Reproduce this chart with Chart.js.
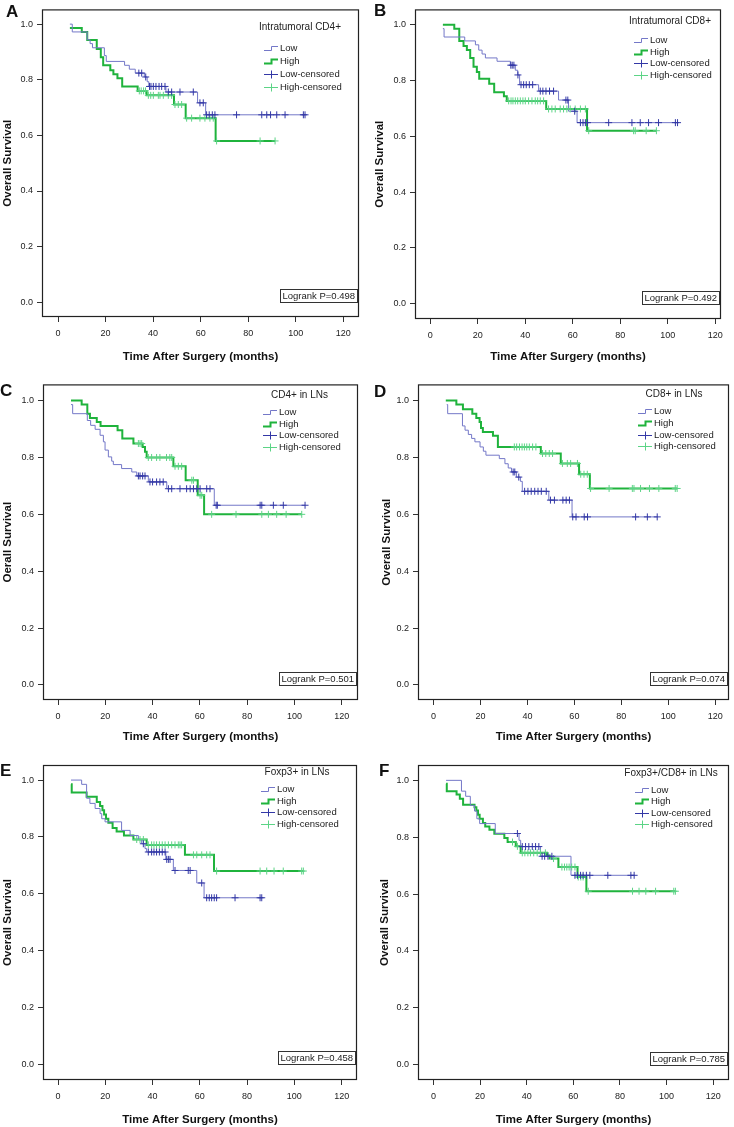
<!DOCTYPE html>
<html>
<head>
<meta charset="utf-8">
<title>Overall survival by T-cell infiltration</title>
<script src="https://cdn.jsdelivr.net/npm/chart.js@4.4.1/dist/chart.umd.min.js"></script>
<style>
  html, body { margin: 0; padding: 0; background: #fff; }
  #wrap { position: relative; width: 734px; height: 1127px; }
  #wrap canvas { position: absolute; }
</style>
</head>
<body>
<div id="wrap">
  <canvas id="cA" width="367" height="375" style="left:0;top:0"></canvas>
  <canvas id="cB" width="367" height="375" style="left:367px;top:0"></canvas>
  <canvas id="cC" width="367" height="377" style="left:0;top:375px"></canvas>
  <canvas id="cD" width="367" height="377" style="left:367px;top:375px"></canvas>
  <canvas id="cE" width="367" height="375" style="left:0;top:752px"></canvas>
  <canvas id="cF" width="367" height="375" style="left:367px;top:752px"></canvas>
</div>
<script>
// tick labels
const xTicks = [0, 20, 40, 60, 80, 100, 120];
const yTicks = [0, 0.2, 0.4, 0.6, 0.8, 1.0];

// panel texts
const panelLetters = ['A', 'B', 'C', 'D', 'E', 'F'];
const panelTitles = ['Intratumoral CD4+', 'Intratumoral CD8+', 'CD4+ in LNs', 'CD8+ in LNs', 'Foxp3+ in LNs', 'Foxp3+/CD8+ in LNs'];
const logrankP = ['0.498', '0.492', '0.501', '0.074', '0.458', '0.785'];
const yTitles = ['Overall Survival', 'Overall Survival', 'Oerall Survival', 'Overall Survival', 'Overall Survival', 'Overall Survival'];
const legendLabels = ['Low', 'High', 'Low-censored', 'High-censored'];

// A - Intratumoral CD4+
const aLowTime = [5, 6, 12.3, 13.5, 14.5, 19.5, 20.3, 28, 30, 32.5, 36.3, 37.5, 38.2, 45.4, 58.7, 62.1];
const aLowSurv = [1.0, 0.972, 0.944, 0.93, 0.915, 0.887, 0.866, 0.852, 0.838, 0.824, 0.81, 0.793, 0.776, 0.756, 0.717, 0.674];
const aLowCens = [34, 35.2, 36.9, 38.5, 39.1, 40.1, 41.2, 42.5, 43.6, 45, 46.4, 47.8, 51.3, 56.9, 59.7, 61.1, 62.5, 63.6, 64.9, 66, 75.1, 85.7, 87.8, 89.4, 92, 95.5, 103.2, 103.9];
const aHighTime = [5, 10, 12.3, 16.3, 18, 19, 22, 23.3, 25, 27, 33.5, 37.3, 48.8, 53.7, 66.3];
const aHighSurv = [0.986, 0.972, 0.943, 0.911, 0.881, 0.852, 0.834, 0.82, 0.805, 0.776, 0.76, 0.744, 0.711, 0.662, 0.58];
const aHighCens = [34.2, 35, 36, 36.8, 38, 39, 40.1, 42.2, 42.9, 44.3, 46.4, 47.8, 49.2, 50.6, 52, 54.1, 56.2, 59.7, 61.8, 63.9, 65.3, 66.7, 85, 91.3];

// B - Intratumoral CD8+
const bLowTime = [5.3, 5.8, 14.5, 19, 20.4, 21.8, 23.2, 28.1, 33.7, 35.8, 36.8, 37.6, 45.6, 54, 58.2, 61.8];
const bLowSurv = [0.986, 0.956, 0.942, 0.928, 0.909, 0.895, 0.881, 0.869, 0.855, 0.837, 0.82, 0.785, 0.762, 0.73, 0.69, 0.649];
const bLowCens = [33.9, 34.5, 35.2, 36.9, 38.2, 39.3, 40.4, 41.7, 43.1, 46.3, 47.4, 48.7, 50.2, 51.9, 57.1, 57.9, 60.8, 63.2, 64.3, 65.3, 66.2, 75.1, 84.9, 88.4, 91.9, 96.1, 103.2, 104.1];
const bHighTime = [5.3, 10.1, 12.2, 14, 15.4, 16.8, 18.2, 19.6, 20.6, 24.8, 26.9, 31, 32.2, 48.8, 66];
const bHighSurv = [1.0, 0.986, 0.942, 0.924, 0.909, 0.881, 0.849, 0.831, 0.806, 0.788, 0.758, 0.744, 0.727, 0.698, 0.62];
const bHighCens = [33, 34, 34.8, 35.8, 36.8, 37.9, 39, 40, 41.4, 42.8, 44.2, 45.2, 46.3, 47.7, 49.8, 51.2, 52.6, 54.7, 56.1, 57.5, 58.9, 61, 63.2, 65.3, 66.7, 85.6, 86.3, 90.9, 95.2];

// C - CD4+ in LNs
const cLowTime = [5.5, 6.2, 12.4, 13.8, 15.7, 17.8, 19.2, 19.9, 21.3, 22.7, 23.4, 26.9, 31.2, 33.3, 38.2, 46, 66.1];
const cLowSurv = [0.986, 0.954, 0.93, 0.913, 0.899, 0.878, 0.855, 0.826, 0.802, 0.787, 0.775, 0.761, 0.749, 0.735, 0.714, 0.69, 0.632];
const cLowCens = [34, 34.7, 35.8, 36.8, 38.9, 40, 41.7, 43.1, 44.5, 46.7, 48.1, 51.6, 54.4, 55.9, 57.3, 58.7, 60.1, 62.9, 64.3, 66.9, 67.4, 85.5, 86.2, 91.1, 95.3, 104.5];
const cHighTime = [5.5, 10, 12.4, 13.5, 16.4, 18, 25.2, 27.2, 31.9, 35.8, 36.8, 37.5, 48.8, 54, 59.1, 61.8];
const cHighSurv = [1.0, 0.986, 0.954, 0.939, 0.925, 0.911, 0.896, 0.867, 0.849, 0.837, 0.82, 0.8, 0.769, 0.72, 0.667, 0.6];
const cHighCens = [34, 34.7, 35.4, 38.2, 39.6, 41.7, 43.1, 45.9, 47.3, 48.1, 49.5, 50.9, 52.3, 56.6, 57.3, 60.1, 60.8, 65, 75.3, 86.2, 89, 92.5, 96.5, 103.1];

// D - CD8+ in LNs
const dLowTime = [5.6, 6, 12.3, 13.4, 14.8, 16.2, 17.6, 19.8, 21.2, 22.3, 28, 30.4, 31.8, 33.2, 35.3, 37, 37.8, 49.1, 59];
const dLowSurv = [0.986, 0.954, 0.911, 0.896, 0.881, 0.867, 0.855, 0.837, 0.822, 0.808, 0.796, 0.778, 0.763, 0.749, 0.731, 0.716, 0.681, 0.65, 0.591];
const dLowCens = [33.9, 34.6, 36.3, 38.8, 40.2, 41.6, 43.1, 44.5, 45.9, 48, 49.8, 51.5, 55.1, 56.5, 57.9, 59.3, 60.7, 64.2, 65.6, 86.1, 91.1, 95.3];
const dHighTime = [5.2, 9.7, 12.5, 16.5, 18.2, 19.6, 20.2, 21, 25.3, 27.4, 45.7, 54.2, 62, 66.6];
const dHighSurv = [1.0, 0.986, 0.97, 0.954, 0.939, 0.925, 0.904, 0.89, 0.876, 0.837, 0.814, 0.779, 0.741, 0.691];
const dHighCens = [34.4, 35.4, 36.6, 37.7, 38.7, 39.7, 40.8, 42.2, 43.6, 46.4, 47.8, 49.3, 50.7, 54.9, 57, 58.4, 61.3, 62.7, 64.1, 65.5, 66.9, 74.8, 84.7, 85.4, 88.2, 92, 96, 103, 103.8];

// E - Foxp3+ in LNs
const eLowTime = [5.5, 10, 12.1, 13.5, 15.7, 17.8, 18.5, 19.9, 26.9, 30.5, 34, 35.4, 36.8, 37.5, 45.6, 48.8, 58.7, 61.8];
const eLowSurv = [1.0, 0.985, 0.936, 0.918, 0.9, 0.882, 0.864, 0.853, 0.823, 0.805, 0.791, 0.776, 0.759, 0.747, 0.721, 0.682, 0.638, 0.586];
const eLowCens = [36.1, 38.2, 39.6, 40.6, 41.7, 42.9, 44.1, 45.3, 46, 46.7, 47.4, 49.5, 55.1, 55.9, 60.8, 62.9, 64, 65, 66.1, 67.1, 74.9, 85.5, 86.2];
const eHighTime = [5.5, 5.8, 12.1, 16.4, 17.8, 18.8, 19.5, 20.3, 21.3, 23.1, 24.8, 27.9, 31.9, 37.5, 53.7, 66];
const eHighSurv = [0.985, 0.956, 0.941, 0.923, 0.909, 0.894, 0.879, 0.864, 0.85, 0.831, 0.819, 0.805, 0.791, 0.772, 0.737, 0.68];
const eHighCens = [33.3, 34.7, 36.1, 38.2, 39.6, 40.6, 41.7, 42.9, 44.1, 45.3, 46.7, 48.1, 49.5, 50.9, 51.6, 52.3, 57.3, 58.7, 60.8, 62.9, 64.3, 67.1, 85.5, 88.3, 91.4, 95.3, 103.1, 103.8];

// F - Foxp3+/CD8+ in LNs
const fLowTime = [5.4, 12, 13.8, 15.8, 17.6, 18.6, 19.8, 26.5, 36.7, 37.4, 45.9, 59];
const fLowSurv = [1.0, 0.962, 0.944, 0.912, 0.892, 0.865, 0.848, 0.813, 0.789, 0.767, 0.733, 0.666];
const fLowCens = [36, 38.1, 39.5, 40.9, 42.4, 43.8, 45.2, 46.6, 47.7, 49.1, 50.8, 60.7, 61.8, 63.1, 64.2, 65.6, 67.1, 74.8, 84.7, 86.1];
const fHighTime = [5.4, 5.7, 9.9, 11.3, 12.7, 17.6, 18.4, 19.1, 19.8, 21.2, 22.2, 24, 26.1, 30.4, 31.8, 35.3, 37.4, 48.7, 49.8, 53.6, 61.8, 65.6];
const fHighSurv = [0.988, 0.962, 0.95, 0.935, 0.914, 0.905, 0.894, 0.879, 0.865, 0.85, 0.838, 0.826, 0.812, 0.797, 0.783, 0.768, 0.745, 0.736, 0.725, 0.695, 0.66, 0.61];
const fHighCens = [33.9, 36, 38.1, 39.2, 40.5, 41.6, 43, 44.5, 45.9, 48, 51.5, 55.1, 56.2, 57.2, 58.2, 59.3, 60.7, 62.1, 63.2, 64.2, 66.4, 85.4, 88.2, 91.1, 95.3, 103.1, 103.8];

// colours
const lowLineColor = '#7478c8';
const lowCensColor = '#3338a6';
const highLineColor = '#1fb33c';
const highCensColor = '#5cd486';

const FONT = '"Liberation Sans", Arial, sans-serif';
Chart.defaults.font.family = FONT;
Chart.defaults.color = '#222';

// layout of each panel (plot box is set through axis sizes and padding)
const layouts = [
  { yW: 42, padR: 8,  padT: 3,  xH: 58, xMin: -6.73, xMax: 126.6, yMin: -0.053, yMax: 1.053, xTitlePad: 11, yTitlePad: 1,
    letterX: 6, letterY: 17, lgTitleX: -59, lgTitleY: 18, lgTextX: -79, lgRow0: 39, lgGap: 13 },
  { yW: 48, padR: 13, padT: 1,  xH: 56, xMin: -6.44, xMax: 122.4, yMin: -0.055, yMax: 1.055, xTitlePad: 11, yTitlePad: 6,
    letterX: 7, letterY: 16, lgTitleX: -51, lgTitleY: 12, lgTextX: -71, lgRow0: 31, lgGap: 11.5 },
  { yW: 43, padR: 9,  padT: 9,  xH: 52, xMin: -6.35, xMax: 126.9, yMin: -0.053, yMax: 1.057, xTitlePad: 8, yTitlePad: 1,
    letterX: 0, letterY: 21, lgTitleX: -58.5, lgTitleY: 11, lgTextX: -79, lgRow0: 28, lgGap: 11.5 },
  { yW: 51, padR: 3,  padT: 9,  xH: 52, xMin: -6.65, xMax: 125.9, yMin: -0.053, yMax: 1.057, xTitlePad: 8, yTitlePad: 13,
    letterX: 7, letterY: 22, lgTitleX: -55, lgTitleY: 10, lgTextX: -75, lgRow0: 27, lgGap: 11.6 },
  { yW: 43, padR: 10, padT: 13, xH: 47, xMin: -6.35, xMax: 126.5, yMin: -0.055, yMax: 1.053, xTitlePad: 0, yTitlePad: 1,
    letterX: 0, letterY: 24, lgTitleX: -60, lgTitleY: 7, lgTextX: -80, lgRow0: 24.3, lgGap: 11.5 },
  { yW: 51, padR: 1,  padT: 13, xH: 47, xMin: -6.65, xMax: 126.8, yMin: -0.054, yMax: 1.054, xTitlePad: 0, yTitlePad: 11,
    letterX: 12, letterY: 24, lgTitleX: -58, lgTitleY: 8, lgTextX: -78, lgRow0: 25, lgGap: 11.3 }
];

// survival value of a step curve at time t
function survAt(times, survs, t) {
  let s = survs[0];
  for (let i = 0; i < times.length; i++) {
    if (times[i] <= t) s = survs[i];
  }
  return s;
}

function curvePoints(times, survs, cens) {
  const pts = times.map((t, i) => ({ x: t, y: survs[i] }));
  const lastCens = Math.max.apply(null, cens);
  if (lastCens > times[times.length - 1]) {
    pts.push({ x: lastCens, y: survs[survs.length - 1] });
  }
  return pts;
}

function censPoints(times, survs, cens) {
  return cens.map(c => ({ x: c, y: survAt(times, survs, c) }));
}

// frame, panel letter, legend and logrank box
const kmDecor = {
  id: 'kmDecor',
  afterDraw(chart, args, opts) {
    const ctx = chart.ctx;
    const a = chart.chartArea;
    ctx.save();

    // plot frame
    ctx.strokeStyle = '#222';
    ctx.lineWidth = 1.2;
    ctx.strokeRect(a.left + 0.5, a.top + 0.5, a.right - a.left - 1, a.bottom - a.top - 1);

    // panel letter
    ctx.fillStyle = '#111';
    ctx.font = 'bold 17px ' + FONT;
    ctx.textAlign = 'left';
    ctx.textBaseline = 'alphabetic';
    ctx.fillText(opts.letter, opts.letterX, opts.letterY);

    // legend title
    ctx.fillStyle = '#222';
    ctx.font = '10px ' + FONT;
    ctx.textAlign = 'center';
    ctx.textBaseline = 'middle';
    ctx.fillText(opts.title, a.right + opts.lgTitleX, a.top + opts.lgTitleY);

    // legend entries
    const tx = a.right + opts.lgTextX;
    const kinds = [
      { step: true, color: lowLineColor, width: 1 },
      { step: true, color: highLineColor, width: 2 },
      { step: false, color: lowCensColor, width: 1 },
      { step: false, color: highCensColor, width: 1 }
    ];
    ctx.font = '9.5px ' + FONT;
    ctx.textAlign = 'left';
    legendLabels.forEach((label, i) => {
      const y = Math.round(a.top + opts.lgRow0 + i * opts.lgGap) + 0.5;
      const k = kinds[i];
      ctx.strokeStyle = k.color;
      ctx.lineWidth = k.width;
      ctx.beginPath();
      if (k.step) {
        ctx.moveTo(tx - 16, y + 2);
        ctx.lineTo(tx - 8.5, y + 2);
        ctx.lineTo(tx - 8.5, y - 2);
        ctx.lineTo(tx - 2, y - 2);
      } else {
        ctx.moveTo(tx - 16, y);
        ctx.lineTo(tx - 2, y);
        ctx.moveTo(tx - 8.5, y - 4);
        ctx.lineTo(tx - 8.5, y + 4);
      }
      ctx.stroke();
      ctx.fillStyle = '#222';
      ctx.fillText(label, tx, y);
    });

    // logrank box
    const text = 'Logrank P=' + opts.p;
    const w = Math.ceil(ctx.measureText(text).width) + 4;
    const bottom = Math.round(chart.scales.y.getPixelForValue(0));
    const right = Math.round(a.right) - 2;
    ctx.strokeStyle = '#333';
    ctx.lineWidth = 1;
    ctx.strokeRect(right - w + 0.5, bottom - 13 + 0.5, w, 13);
    ctx.fillStyle = '#222';
    ctx.fillText(text, right - w + 2.5, bottom - 6);

    ctx.restore();
  }
};

const panelData = [
  [aLowTime, aLowSurv, aLowCens, aHighTime, aHighSurv, aHighCens],
  [bLowTime, bLowSurv, bLowCens, bHighTime, bHighSurv, bHighCens],
  [cLowTime, cLowSurv, cLowCens, cHighTime, cHighSurv, cHighCens],
  [dLowTime, dLowSurv, dLowCens, dHighTime, dHighSurv, dHighCens],
  [eLowTime, eLowSurv, eLowCens, eHighTime, eHighSurv, eHighCens],
  [fLowTime, fLowSurv, fLowCens, fHighTime, fHighSurv, fHighCens]
];
const canvasIds = ['cA', 'cB', 'cC', 'cD', 'cE', 'cF'];

panelData.forEach((d, idx) => {
  const L = layouts[idx];
  const [lt, ls, lc, ht, hs, hc] = d;

  new Chart(document.getElementById(canvasIds[idx]), {
    type: 'line',
    data: {
      datasets: [
        {
          label: 'Low-censored',
          data: censPoints(lt, ls, lc),
          showLine: false,
          pointStyle: 'cross',
          pointRadius: 3.5,
          pointBorderWidth: 1,
          pointBorderColor: lowCensColor,
          order: 0
        },
        {
          label: 'High-censored',
          data: censPoints(ht, hs, hc),
          showLine: false,
          pointStyle: 'cross',
          pointRadius: 3.5,
          pointBorderWidth: 1,
          pointBorderColor: highCensColor,
          order: 1
        },
        {
          label: 'Low',
          data: curvePoints(lt, ls, lc),
          stepped: true,
          borderColor: lowLineColor,
          borderWidth: 1,
          pointRadius: 0,
          fill: false,
          order: 2
        },
        {
          label: 'High',
          data: curvePoints(ht, hs, hc),
          stepped: true,
          borderColor: highLineColor,
          borderWidth: 2,
          pointRadius: 0,
          fill: false,
          order: 3
        }
      ]
    },
    options: {
      responsive: false,
      animation: false,
      events: [],
      layout: { padding: { left: 0, top: L.padT, right: L.padR, bottom: 0 } },
      plugins: {
        legend: { display: false },
        tooltip: { enabled: false },
        kmDecor: {
          letter: panelLetters[idx],
          title: panelTitles[idx],
          p: logrankP[idx],
          letterX: L.letterX, letterY: L.letterY,
          lgTitleX: L.lgTitleX, lgTitleY: L.lgTitleY,
          lgTextX: L.lgTextX, lgRow0: L.lgRow0, lgGap: L.lgGap
        }
      },
      scales: {
        x: {
          type: 'linear',
          min: L.xMin,
          max: L.xMax,
          afterBuildTicks: s => { s.ticks = xTicks.map(v => ({ value: v })); },
          afterFit: s => { s.height = L.xH; },
          grid: { drawOnChartArea: false, drawTicks: true, tickLength: 5, color: '#333' },
          border: { display: false },
          ticks: { padding: 6, color: '#222', font: { size: 9 }, maxRotation: 0, autoSkip: false, callback: v => v },
          title: {
            display: true,
            text: 'Time After Surgery (months)',
            color: '#111',
            font: { size: 11.5, weight: 'bold' },
            padding: { top: 0, bottom: L.xTitlePad }
          }
        },
        y: {
          type: 'linear',
          min: L.yMin,
          max: L.yMax,
          afterBuildTicks: s => { s.ticks = yTicks.map(v => ({ value: v })); },
          afterFit: s => { s.width = L.yW; },
          grid: { drawOnChartArea: false, drawTicks: true, tickLength: 5, color: '#333' },
          border: { display: false },
          ticks: { padding: 4, color: '#222', font: { size: 9 }, callback: v => v.toFixed(1) },
          title: {
            display: true,
            text: yTitles[idx],
            color: '#111',
            font: { size: 11.5, weight: 'bold' },
            padding: { top: L.yTitlePad, bottom: 0 }
          }
        }
      }
    },
    plugins: [kmDecor]
  });
});
</script>
</body>
</html>
